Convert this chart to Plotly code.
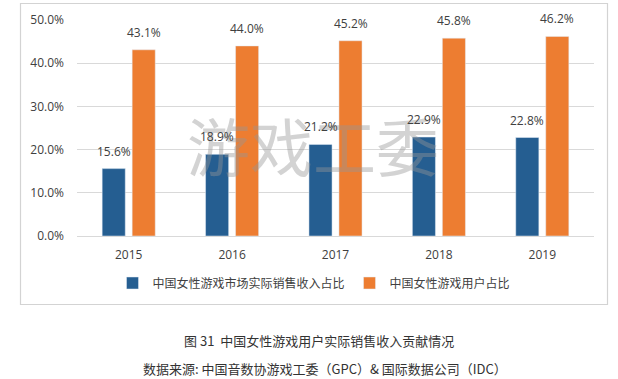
import plotly.graph_objects as go

years = ["2015", "2016", "2017", "2018", "2019"]
revenue_share = [15.6, 18.9, 21.2, 22.9, 22.8]
user_share = [43.1, 44.0, 45.2, 45.8, 46.2]
series_names = ["中国女性游戏市场实际销售收入占比", "中国女性游戏用户占比"]
y_ticks = [0, 10, 20, 30, 40, 50]
title_text = "图 31  中国女性游戏用户实际销售收入贡献情况"
source_text = "数据来源: 中国音数协游戏工委（GPC）& 国际数据公司（IDC）"
watermark = "游戏工委"

W, H = 618, 379
# target plot area in window pixels: x 77..594, y 20..236
ML, MT = 77, 20
PW, PH = 594 - 77, 236 - 20
MR, MB = W - ML - PW, H - MT - PH

def px(x):
    return (x - 77) / PW

def py(y):
    return (236 - y) / PH

BLUE = "#255E91"
ORANGE = "#ED7D31"
FONT = "Open Sans, Noto Sans CJK SC, sans-serif"
CJK = "Noto Sans CJK SC, sans-serif"

fig = go.Figure()
fig.add_bar(x=years, y=revenue_share, name=series_names[0], marker_color=BLUE,
            cliponaxis=False)
fig.add_bar(x=years, y=user_share, name=series_names[1], marker_color=ORANGE,
            cliponaxis=False)

annotations = [
    dict(x=px(313), y=py(143), xref="paper", yref="paper", text=watermark,
         xanchor="center", yanchor="middle", showarrow=False,
         font=dict(size=63, color="rgba(150,150,150,0.42)", family=CJK)),
]
for i, yr in enumerate(years):
    annotations.append(dict(x=i, y=revenue_share[i], xref="x", yref="y", text=f"{revenue_share[i]:.1f}%",
                            showarrow=False, xshift=-15, yanchor="bottom", yshift=7,
                            font=dict(size=12, color="#404040", family=FONT)))
    annotations.append(dict(x=i, y=user_share[i], xref="x", yref="y", text=f"{user_share[i]:.1f}%",
                            showarrow=False, xshift=15, yanchor="bottom", yshift=7,
                            font=dict(size=12, color="#404040", family=FONT)))

annotations.append(dict(x=px(319), y=py(340), xref="paper", yref="paper", text=title_text,
                        xanchor="center", yanchor="middle", showarrow=False,
                        font=dict(size=13, color="#333333", family=CJK)))
annotations.append(dict(x=px(325), y=py(368), xref="paper", yref="paper", text=source_text,
                        xanchor="center", yanchor="middle", showarrow=False,
                        font=dict(size=13, color="#333333", family=CJK)))

shapes = [
    dict(type="rect", xref="paper", yref="paper", x0=px(20.5), x1=px(607.5), y0=py(304.5), y1=py(3.5),
         line=dict(color="#D3D3D3", width=1.2), fillcolor="rgba(0,0,0,0)", layer="below"),
]

fig.update_layout(
    width=W, height=H,
    margin=dict(l=ML, r=MR, t=MT, b=MB),
    paper_bgcolor="white", plot_bgcolor="white",
    barmode="group", bargap=0.42, bargroupgap=0.23,
    font=dict(family=FONT, size=12, color="#404040"),
    showlegend=True,
    legend=dict(orientation="h", x=px(314), xanchor="center", y=py(283), yanchor="middle",
                font=dict(size=12, color="#404040", family=CJK),
                itemwidth=30, bgcolor="rgba(0,0,0,0)"),
    annotations=annotations,
    shapes=shapes,
)
fig.update_xaxes(type="category", range=[-0.5, 4.5], showgrid=False, showline=True, linecolor="#D9D9D9",
                 linewidth=1, ticks="", ticklabelstandoff=8, tickfont=dict(size=12, color="#404040"))
fig.update_yaxes(range=[0, 50], tickvals=y_ticks, ticktext=[f"{v:.1f}%" for v in y_ticks],
                 showgrid=True, gridcolor="#D9D9D9", gridwidth=1, zeroline=False, showline=False,
                 ticks="", ticklabelstandoff=12, tickfont=dict(size=12, color="#404040"))

fig.write_html("out.html", config={"displayModeBar": False},
               post_script="document.body.style.margin='0';")
